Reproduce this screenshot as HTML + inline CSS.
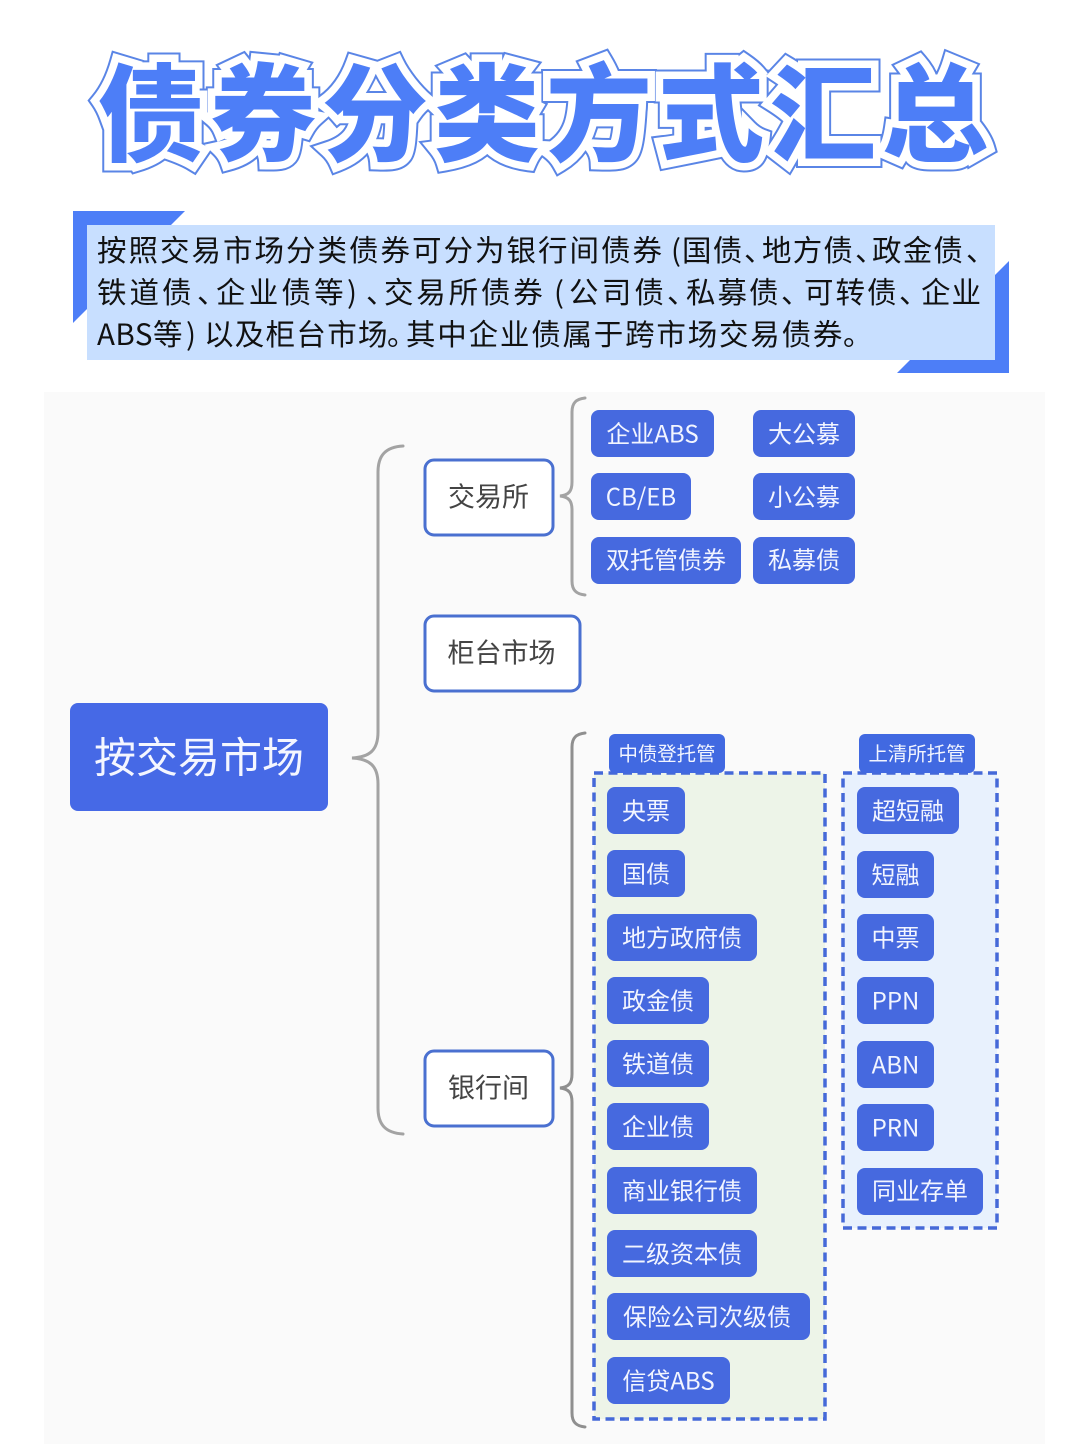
<!DOCTYPE html>
<html lang="zh">
<head>
<meta charset="utf-8">
<style>
html,body{margin:0;padding:0;background:#fff;width:1080px;height:1444px;overflow:hidden}
svg{display:block}
text{font-family:"Noto Sans CJK SC",sans-serif}
.t{font-weight:900;font-size:106px;letter-spacing:6px}
.n{fill:#4669df}
.l{font-size:24px;fill:#f2f5ff;text-anchor:middle;dominant-baseline:central;transform:translateY(-1px)}
.s{font-size:19.4px;fill:#f2f5ff;text-anchor:middle;dominant-baseline:central;transform:translateY(-1px)}
.b{font-size:27px;fill:#444;text-anchor:middle;dominant-baseline:central;transform:translate(-0.5px,-1px)}
.p{font-size:29.5px;fill:#111}
.w{fill:#fff;stroke:#4a70d0;stroke-width:3}
.br{fill:none;stroke:#a3a3a3;stroke-width:3;stroke-linecap:round}
</style>
</head>
<body>
<svg width="1080" height="1444" viewBox="0 0 1080 1444" xmlns="http://www.w3.org/2000/svg">
<rect width="1080" height="1444" fill="#fff"/>

<!-- title -->
<text class="t" x="98" y="153" fill="#5a85e6" stroke="#5a85e6" stroke-width="19" stroke-linejoin="miter" stroke-miterlimit="3">债券分类方式汇总</text>
<text class="t" x="98" y="153" fill="#fff" stroke="#fff" stroke-width="15" stroke-linejoin="miter" stroke-miterlimit="3">债券分类方式汇总</text>
<text class="t" x="98" y="153" fill="#4d7ef7">债券分类方式汇总</text>

<!-- banner -->
<polygon points="73,211 185,211 73,323" fill="#4d7ef7"/>
<polygon points="1009,261 1009,373 897,373" fill="#4d7ef7"/>
<rect x="87" y="225" width="908" height="135" fill="#c8dfff"/>
<text class="p" y="261">
<tspan x="97" style="letter-spacing:2px">按照交易市场分类债券可分为银行间债券</tspan><tspan x="671">(</tspan><tspan x="682" style="letter-spacing:1.2px">国债</tspan><tspan x="744">、</tspan><tspan x="762" style="letter-spacing:1.2px">地方债</tspan><tspan x="855">、</tspan><tspan x="872" style="letter-spacing:1.2px">政金债</tspan><tspan x="966">、</tspan>
</text>
<text class="p" y="303">
<tspan x="97" style="letter-spacing:3px">铁道债</tspan><tspan x="197">、</tspan><tspan x="216" style="letter-spacing:3.2px">企业债等</tspan><tspan x="347">)</tspan><tspan x="366">、</tspan><tspan x="384" style="letter-spacing:2.8px">交易所债券</tspan><tspan x="554">(</tspan><tspan x="569" style="letter-spacing:3.2px">公司债</tspan><tspan x="667">、</tspan><tspan x="686" style="letter-spacing:2px">私募债</tspan><tspan x="781">、</tspan><tspan x="804" style="letter-spacing:2px">可转债</tspan><tspan x="899">、</tspan><tspan x="921" style="letter-spacing:1px">企业</tspan>
</text>
<text class="p" y="345">
<tspan x="97" style="letter-spacing:0.5px">ABS</tspan><tspan x="153">等</tspan><tspan x="186">)</tspan><tspan x="204" style="letter-spacing:1.3px">以及柜台市场</tspan><tspan x="387">。</tspan><tspan x="406" style="letter-spacing:1.8px">其中企业债属于跨市场交易债券</tspan><tspan x="843">。</tspan>
</text>

<!-- panel -->
<rect x="44" y="392" width="1001" height="1052" fill="#fafafa"/>

<!-- braces -->
<path class="br" d="M403,446 C386,447 378,455 378,472 L378,732 C378,750 370,757 352,758 C370,759 378,766 378,784 L378,1108 C378,1125 386,1133 403,1134"/>
<path class="br" d="M585,398 C576,399 572,403 572,412 L572,482 C572,491 569,495 560,496 C569,497 572,501 572,510 L572,581 C572,590 576,594 585,595"/>
<path class="br" style="stroke:#8f8f8f" d="M585,733 C576,734 572,738 572,747 L572,1074 C572,1083 569,1087 560,1088 C569,1089 572,1093 572,1102 L572,1413 C572,1422 576,1426 585,1427"/>

<!-- main node -->
<rect x="70" y="703" width="258" height="108" rx="8" fill="#4669e6"/>
<text x="199" y="755" font-size="42" fill="#f4f6ff" text-anchor="middle" dominant-baseline="central">按交易市场</text>

<!-- white nodes -->
<rect class="w" x="425" y="460" width="128" height="75" rx="9"/>
<text class="b" x="489" y="496">交易所</text>
<rect class="w" x="425" y="616" width="155" height="75" rx="9"/>
<text class="b" x="502" y="652">柜台市场</text>
<rect class="w" x="425" y="1051" width="128" height="75" rx="9"/>
<text class="b" x="489" y="1087">银行间</text>

<!-- exchange nodes -->
<g>
<rect class="n" x="591" y="410" width="123" height="47" rx="8"/><text class="l" x="652.5" y="433">企业ABS</text>
<rect class="n" x="753" y="410" width="102" height="47" rx="8"/><text class="l" x="804" y="433">大公募</text>
<rect class="n" x="591" y="473" width="100" height="47" rx="8"/><text class="l" x="641" y="496">CB/EB</text>
<rect class="n" x="753" y="473" width="102" height="47" rx="8"/><text class="l" x="804" y="496">小公募</text>
<rect class="n" x="591" y="537" width="150" height="47" rx="8"/><text class="l" x="666" y="559">双托管债券</text>
<rect class="n" x="753" y="537" width="102" height="47" rx="8"/><text class="l" x="804" y="559">私募债</text>
</g>

<!-- dashed groups -->
<rect x="594" y="773" width="231" height="646" fill="#edf4e8" stroke="#4569d8" stroke-width="3.5" stroke-dasharray="9 5.5"/>
<rect x="843" y="773" width="154" height="455" fill="#e8f1fd" stroke="#4569d8" stroke-width="3.5" stroke-dasharray="9 5.5"/>

<!-- group labels -->
<rect x="609" y="734" width="116" height="39" rx="6" fill="#4169e1"/>
<text class="s" x="667" y="753">中债登托管</text>
<rect x="859" y="734" width="116" height="39" rx="6" fill="#4169e1"/>
<text class="s" x="917" y="753">上清所托管</text>

<!-- left column -->
<g>
<rect class="n" x="607" y="787" width="78" height="47" rx="8"/><text class="l" x="646" y="810">央票</text>
<rect class="n" x="607" y="850" width="78" height="47" rx="8"/><text class="l" x="646" y="873">国债</text>
<rect class="n" x="607" y="914" width="150" height="47" rx="8"/><text class="l" x="682" y="937">地方政府债</text>
<rect class="n" x="607" y="977" width="102" height="47" rx="8"/><text class="l" x="658" y="1000">政金债</text>
<rect class="n" x="607" y="1040" width="102" height="47" rx="8"/><text class="l" x="658" y="1063">铁道债</text>
<rect class="n" x="607" y="1103" width="102" height="47" rx="8"/><text class="l" x="658" y="1126">企业债</text>
<rect class="n" x="607" y="1167" width="150" height="47" rx="8"/><text class="l" x="682" y="1190">商业银行债</text>
<rect class="n" x="607" y="1230" width="150" height="47" rx="8"/><text class="l" x="682" y="1253">二级资本债</text>
<rect class="n" x="607" y="1293" width="203" height="47" rx="8"/><text class="l" x="707" y="1316">保险公司次级债</text>
<rect class="n" x="607" y="1357" width="123" height="47" rx="8"/><text class="l" x="668.5" y="1380">信贷ABS</text>
</g>

<!-- right column -->
<g>
<rect class="n" x="857" y="787" width="102" height="47" rx="8"/><text class="l" x="908" y="810">超短融</text>
<rect class="n" x="857" y="851" width="77" height="47" rx="8"/><text class="l" x="895.5" y="874">短融</text>
<rect class="n" x="857" y="914" width="77" height="47" rx="8"/><text class="l" x="895.5" y="937">中票</text>
<rect class="n" x="857" y="977" width="77" height="47" rx="8"/><text class="l" x="895.5" y="1000">PPN</text>
<rect class="n" x="857" y="1041" width="77" height="47" rx="8"/><text class="l" x="895.5" y="1064">ABN</text>
<rect class="n" x="857" y="1104" width="77" height="47" rx="8"/><text class="l" x="895.5" y="1127">PRN</text>
<rect class="n" x="857" y="1168" width="126" height="47" rx="8"/><text class="l" x="920" y="1190">同业存单</text>
</g>
</svg>
</body>
</html>
